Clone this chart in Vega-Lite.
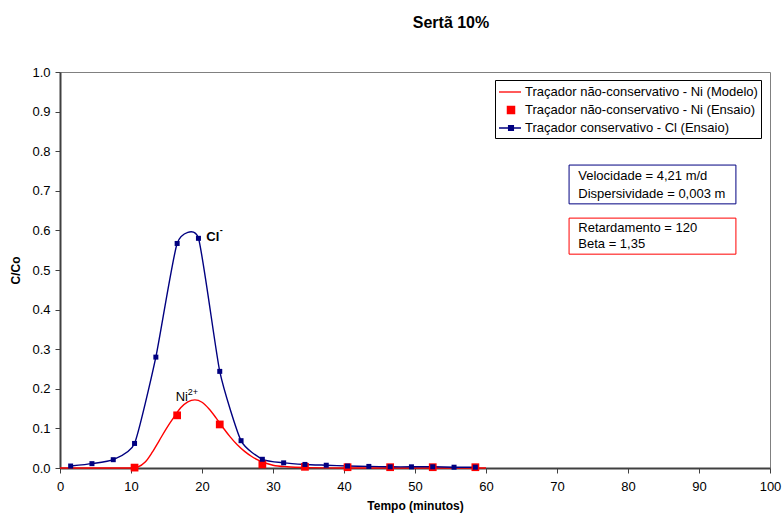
{
  "$schema": "https://vega.github.io/schema/vega-lite/v6.json",
  "width": 710,
  "height": 396,
  "autosize": "none",
  "padding": {"left": 60, "top": 72, "right": 13, "bottom": 47},
  "background": "white",
  "config": {
    "font": "Liberation Sans",
    "view": {"stroke": "#808080", "strokeWidth": 1},
    "axis": {
      "grid": false,
      "domainColor": "#404040",
      "domainWidth": 2,
      "tickColor": "#404040",
      "tickSize": 5,
      "labelColor": "#000000",
      "labelFontSize": 13,
      "labelOverlap": false,
      "labelFlush": false,
      "titleFontSize": 12,
      "titleFontWeight": "bold",
      "titleColor": "#000000"
    }
  },
  "title": {
    "text": "Sertã 10%",
    "fontSize": 16,
    "fontWeight": "bold",
    "color": "#000000",
    "anchor": "middle",
    "dx": 36,
    "offset": 35
  },
  "datasets": {
    "cl": [
      {"t": 1.5, "c": 0.005}, {"t": 4.5, "c": 0.011}, {"t": 7.5, "c": 0.021},
      {"t": 10.5, "c": 0.062}, {"t": 13.5, "c": 0.28}, {"t": 16.5, "c": 0.567},
      {"t": 19.5, "c": 0.58}, {"t": 22.5, "c": 0.244}, {"t": 25.5, "c": 0.069},
      {"t": 28.5, "c": 0.022}, {"t": 31.5, "c": 0.013}, {"t": 34.5, "c": 0.009},
      {"t": 37.5, "c": 0.007}, {"t": 40.5, "c": 0.005}, {"t": 43.5, "c": 0.004},
      {"t": 46.5, "c": 0.003}, {"t": 49.5, "c": 0.003}, {"t": 52.5, "c": 0.003},
      {"t": 55.5, "c": 0.002}, {"t": 58.5, "c": 0.002}
    ],
    "ni": [
      {"t": 10.5, "c": 0.001}, {"t": 16.5, "c": 0.133}, {"t": 22.5, "c": 0.11},
      {"t": 28.5, "c": 0.009}, {"t": 34.5, "c": 0.003}, {"t": 40.5, "c": 0.002},
      {"t": 46.5, "c": 0.002}, {"t": 52.5, "c": 0.002}, {"t": 58.5, "c": 0.002}
    ],
    "model": [
      {"t": 0, "c": 0}, {"t": 5, "c": 0}, {"t": 10, "c": 0}, {"t": 11, "c": 0.003},
      {"t": 12, "c": 0.015}, {"t": 13, "c": 0.04}, {"t": 14, "c": 0.07},
      {"t": 15, "c": 0.1}, {"t": 16, "c": 0.127}, {"t": 17, "c": 0.152},
      {"t": 18, "c": 0.167}, {"t": 19, "c": 0.172}, {"t": 20, "c": 0.166},
      {"t": 21, "c": 0.149}, {"t": 22, "c": 0.126}, {"t": 23, "c": 0.101},
      {"t": 24, "c": 0.078}, {"t": 25, "c": 0.058}, {"t": 26, "c": 0.042},
      {"t": 27, "c": 0.029}, {"t": 28, "c": 0.019}, {"t": 29, "c": 0.012},
      {"t": 30, "c": 0.007}, {"t": 32, "c": 0.003}, {"t": 35, "c": 0.001},
      {"t": 40, "c": 0}, {"t": 50, "c": 0}, {"t": 60, "c": 0}
    ],
    "boxBlue": [{"t": 71.7, "t2": 95.2, "c": 0.765, "c2": 0.667}],
    "boxRed": [{"t": 71.7, "t2": 95.2, "c": 0.631, "c2": 0.54}],
    "notes": [
      {"t": 73.0, "c": 0.737, "text": "Velocidade = 4,21 m/d"},
      {"t": 73.0, "c": 0.693, "text": "Dispersividade = 0,003 m"},
      {"t": 73.0, "c": 0.607, "text": "Retardamento = 120"},
      {"t": 73.0, "c": 0.566, "text": "Beta = 1,35"}
    ],
    "clLabel": [{"t": 20.6, "c": 0.583, "text": "Cl"}],
    "clSup": [{"t": 22.5, "c": 0.6, "text": "-"}],
    "niLabel": [{"t": 16.3, "c": 0.18, "text": "Ni"}],
    "niSup": [{"t": 18.0, "c": 0.193, "text": "2+"}]
  },
  "encoding": {
    "x": {"field": "t", "type": "quantitative", "scale": {"domain": [0, 100], "nice": false},
      "axis": {"values": [0,10,20,30,40,50,60,70,80,90,100], "labelOverlap": false, "title": "Tempo (minutos)", "labelPadding": 7, "titlePadding": 7}},
    "y": {"field": "c", "type": "quantitative", "scale": {"domain": [0, 1], "nice": false},
      "axis": {"values": [0,0.1,0.2,0.3,0.4,0.5,0.6,0.7,0.8,0.9,1.0], "labelOverlap": false, "format": ".1f", "title": "C/Co", "labelPadding": 5, "titlePadding": 9}}
  },
  "layer": [
    {
      "data": {"name": "boxBlue"},
      "mark": {"type": "rect", "fill": "white", "stroke": "#000080", "strokeWidth": 1},
      "encoding": {
        "x2": {"field": "t2"},
        "y2": {"field": "c2"}
      }
    },
    {
      "data": {"name": "boxRed"},
      "mark": {"type": "rect", "fill": "white", "stroke": "#FF0000", "strokeWidth": 1},
      "encoding": {
        "x2": {"field": "t2"},
        "y2": {"field": "c2"}
      }
    },
    {
      "data": {"name": "notes"},
      "mark": {"type": "text", "align": "left", "baseline": "middle", "fontSize": 13, "color": "#000000"},
      "encoding": {
        "text": {"field": "text"}
      }
    },
    {
      "data": {"name": "model"},
      "mark": {"type": "line", "interpolate": "monotone", "strokeWidth": 1.4},
      "encoding": {
        "color": {
          "datum": "Traçador não-conservativo - Ni (Modelo)",
          "scale": {
            "domain": ["Traçador não-conservativo - Ni (Modelo)", "Traçador não-conservativo - Ni (Ensaio)", "Traçador conservativo - Cl (Ensaio)"],
            "range": ["#FF0000", "#FF0000", "#000080"]
          },
          "legend": {
            "title": null,
            "orient": "none",
            "legendX": 435,
            "legendY": 8,
            "padding": 3,
            "strokeColor": "#000000",
            "fillColor": "#FFFFFF",
            "labelFontSize": 13,
            "labelColor": "#000000",
            "labelLimit": 400,
            "labelOffset": 9,
            "rowPadding": 2,
            "symbolSize": 256,
            "encode": {
              "symbols": {
                "update": {
                  "shape": {"signal": "datum.value === 'Traçador não-conservativo - Ni (Modelo)' ? 'M-1,0H1.75' : (datum.value === 'Traçador não-conservativo - Ni (Ensaio)' ? 'M0.05,-0.45H0.95V0.45H0.05Z' : 'M-1,0H1.75M0.2,-0.3H0.8V0.3H0.2Z')"},
                  "size": {"value": 256},
                  "stroke": {"scale": "color", "field": "value"},
                  "fill": {"scale": "color", "field": "value"},
                  "strokeWidth": {"value": 1.3},
                  "opacity": {"value": 1},
                  "fillOpacity": {"value": 1}
                }
              }
            }
          }
        }
      }
    },
    {
      "data": {"name": "cl"},
      "mark": {"type": "line", "interpolate": "cardinal", "tension": 0.45, "strokeWidth": 1.4},
      "encoding": {
        "color": {"datum": "Traçador conservativo - Cl (Ensaio)"}
      }
    },
    {
      "data": {"name": "ni"},
      "mark": {"type": "point", "shape": "square", "filled": true, "size": 60, "opacity": 1},
      "encoding": {
        "color": {"datum": "Traçador não-conservativo - Ni (Ensaio)"}
      }
    },
    {
      "data": {"name": "cl"},
      "mark": {"type": "point", "shape": "square", "filled": true, "size": 25, "opacity": 1},
      "encoding": {
        "color": {"datum": "Traçador conservativo - Cl (Ensaio)"}
      }
    },
    {
      "data": {"name": "clLabel"},
      "mark": {"type": "text", "align": "left", "baseline": "middle", "fontSize": 13, "fontWeight": "bold", "color": "#000000"},
      "encoding": {
        "text": {"field": "text"}
      }
    },
    {
      "data": {"name": "clSup"},
      "mark": {"type": "text", "align": "left", "baseline": "middle", "fontSize": 9, "fontWeight": "bold", "color": "#000000"},
      "encoding": {
        "text": {"field": "text"}
      }
    },
    {
      "data": {"name": "niLabel"},
      "mark": {"type": "text", "align": "left", "baseline": "middle", "fontSize": 13, "color": "#000000"},
      "encoding": {
        "text": {"field": "text"}
      }
    },
    {
      "data": {"name": "niSup"},
      "mark": {"type": "text", "align": "left", "baseline": "middle", "fontSize": 9, "color": "#000000"},
      "encoding": {
        "text": {"field": "text"}
      }
    }
  ]
}
